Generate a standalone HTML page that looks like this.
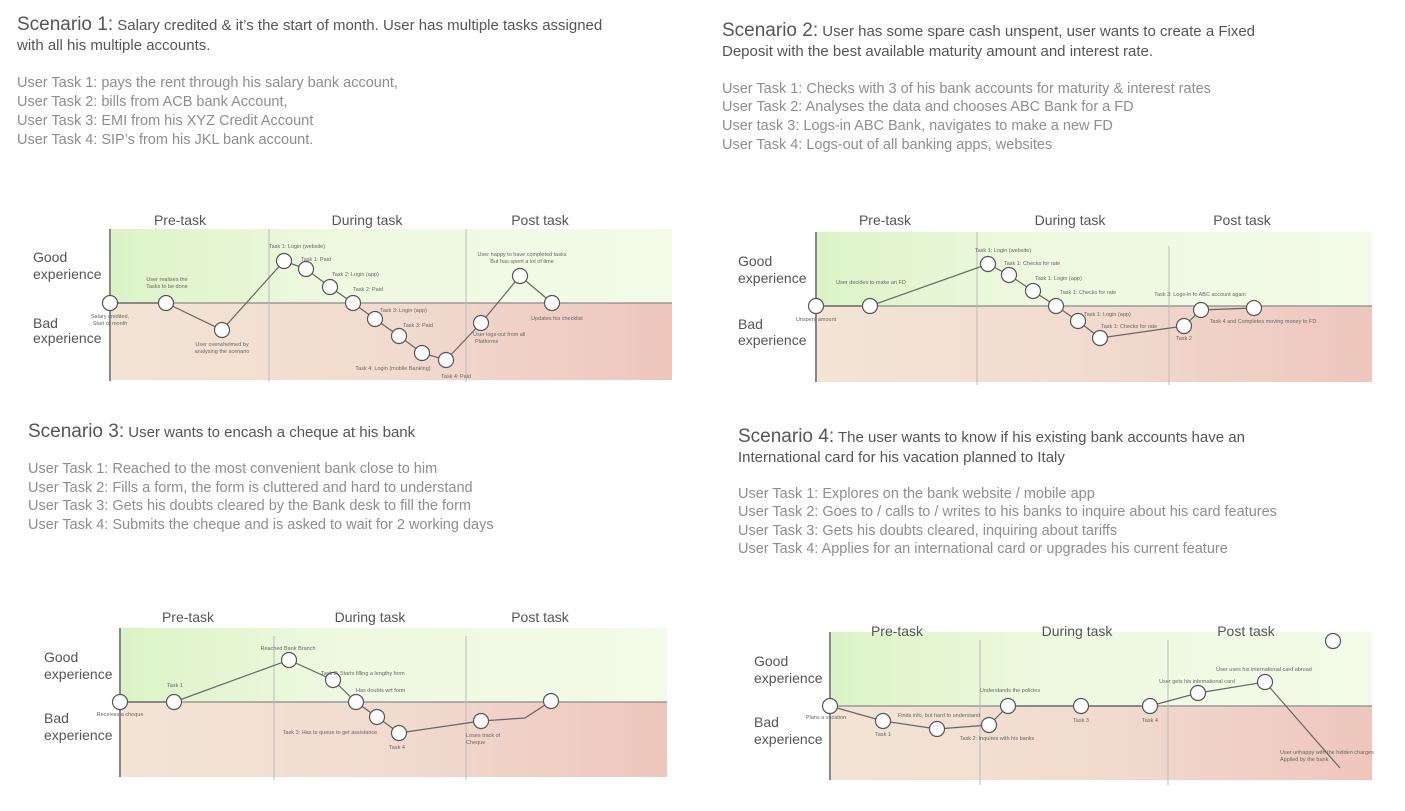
<!DOCTYPE html>
<html><head><meta charset="utf-8"><style>
body{margin:0;background:#fff;}
svg{display:block;font-family:"Liberation Sans",sans-serif;}
.h{fill:#555;font-size:15px}
.hb{fill:#555;font-size:19px}
.t{fill:#8e8e8e;font-size:14.5px}
.ph{fill:#555;font-size:14px;text-anchor:middle}
.lb{fill:#555;font-size:14px}
.a{fill:#666;font-size:5.5px}
.ac{fill:#666;font-size:5.5px;text-anchor:middle}
circle{fill:#fff;stroke:#555;stroke-width:1.2}
polyline{fill:none;stroke:#666;stroke-width:1.2}
.ax{stroke:#888;stroke-width:2}
.dv{stroke:#bbb;stroke-width:1}
</style></head><body>
<svg width="1405" height="811" viewBox="0 0 1405 811">
<defs>
<linearGradient id="g" x1="0" x2="1"><stop offset="0" stop-color="#dcf3c6"/><stop offset="0.4" stop-color="#eef9e0"/><stop offset="1" stop-color="#f3fbe8"/></linearGradient>
<linearGradient id="r" x1="0" x2="1"><stop offset="0" stop-color="#f3e4d4"/><stop offset="0.5" stop-color="#f1dbcf"/><stop offset="1" stop-color="#eec6bc"/></linearGradient>
</defs>

<text x="17" y="30" class="h"><tspan class="hb">Scenario 1:</tspan> Salary credited &amp; it’s the start of month. User has multiple tasks assigned</text>
<text x="17" y="50" class="h">with all his multiple accounts.</text>
<text x="17" y="87" class="t">User Task 1: pays the rent through his salary bank account,</text>
<text x="17" y="106" class="t">User Task 2: bills from ACB bank Account,</text>
<text x="17" y="125" class="t">User Task 3: EMI from his XYZ Credit Account</text>
<text x="17" y="144" class="t">User Task 4: SIP’s from his JKL bank account.</text>

<text x="722" y="36" class="h"><tspan class="hb">Scenario 2:</tspan> User has some spare cash unspent, user wants to create a Fixed</text>
<text x="722" y="56" class="h">Deposit with the best available maturity amount and interest rate.</text>
<text x="722" y="93" class="t">User Task 1: Checks with 3 of his bank accounts for maturity &amp; interest rates</text>
<text x="722" y="111" class="t">User Task 2: Analyses the data and chooses ABC Bank for a FD</text>
<text x="722" y="130" class="t">User task 3: Logs-in ABC Bank, navigates to make a new FD</text>
<text x="722" y="149" class="t">User Task 4: Logs-out of all banking apps, websites</text>

<text x="28" y="437" class="h"><tspan class="hb">Scenario 3:</tspan> User wants to encash a cheque at his bank</text>
<text x="28" y="473" class="t">User Task 1: Reached to the most convenient bank close to him</text>
<text x="28" y="492" class="t">User Task 2: Fills a form, the form is cluttered and hard to understand</text>
<text x="28" y="510" class="t">User Task 3: Gets his doubts cleared by the Bank desk to fill the form</text>
<text x="28" y="529" class="t">User Task 4: Submits the cheque and is asked to wait for 2 working days</text>

<text x="738" y="442" class="h"><tspan class="hb">Scenario 4:</tspan> The user wants to know if his existing bank accounts have an</text>
<text x="738" y="462" class="h">International card for his vacation planned to Italy</text>
<text x="738" y="498" class="t">User Task 1: Explores on the bank website / mobile app</text>
<text x="738" y="516" class="t">User Task 2: Goes to / calls to / writes to his banks to inquire about his card features</text>
<text x="738" y="535" class="t">User Task 3: Gets his doubts cleared, inquiring about tariffs</text>
<text x="738" y="553" class="t">User Task 4: Applies for an international card or upgrades his current feature</text>

<!-- Chart 1 -->
<rect x="111" y="229" width="561" height="74" fill="url(#g)"/>
<rect x="111" y="303" width="561" height="77" fill="url(#r)"/>
<line x1="111" y1="303" x2="672" y2="303" stroke="#999" stroke-width="1.5"/>
<line class="dv" x1="269" y1="229" x2="269" y2="382"/><line class="dv" x1="466" y1="229" x2="466" y2="382"/>
<line class="ax" x1="110" y1="229" x2="110" y2="381"/>
<text x="180" y="225" class="ph">Pre-task</text><text x="367" y="225" class="ph">During task</text><text x="540" y="225" class="ph">Post task</text>
<text x="33" y="262" class="lb">Good</text><text x="33" y="279" class="lb">experience</text>
<text x="33" y="328" class="lb">Bad</text><text x="33" y="343" class="lb">experience</text>
<polyline points="110,303 166,303 222,330 284,261 306,269 330,287 353,303 375,319 399,336 422,353 446,360 481,323 520,276 552,303"/>
<g><circle cx="110" cy="303" r="7.5"/><circle cx="166" cy="303" r="7.5"/><circle cx="222" cy="330" r="7.5"/><circle cx="284" cy="261" r="7.5"/><circle cx="306" cy="269" r="7.5"/><circle cx="330" cy="287" r="7.5"/><circle cx="353" cy="303" r="7.5"/><circle cx="375" cy="319" r="7.5"/><circle cx="399" cy="336" r="7.5"/><circle cx="422" cy="353" r="7.5"/><circle cx="446" cy="360" r="7.5"/><circle cx="481" cy="323" r="7.5"/><circle cx="520" cy="276" r="7.5"/><circle cx="552" cy="303" r="7.5"/></g>
<text x="110" y="318" class="ac">Salary credited,</text><text x="110" y="325" class="ac">Start of month</text>
<text x="167" y="281" class="ac">User realises the</text><text x="167" y="288" class="ac">Tasks to be done</text>
<text x="222" y="346" class="ac">User overwhelmed by</text><text x="222" y="353" class="ac">analysing the scenario</text>
<text x="297" y="248" class="ac">Task 1: Login (website)</text>
<text x="301" y="261" class="a">Task 1: Paid</text><text x="332" y="276" class="a">Task 2: Login (app)</text>
<text x="353" y="291" class="a">Task 2: Paid</text><text x="380" y="312" class="a">Task 3: Login (app)</text>
<text x="403" y="327" class="a">Task 3: Paid</text><text x="393" y="370" class="ac">Task 4: Login (mobile Banking)</text>
<text x="456" y="378" class="ac">Task 4: Paid</text>
<text x="473" y="336" class="a">User logs-out from all</text><text x="475" y="343" class="a">Platforms</text>
<text x="522" y="256" class="ac">User happy to have completed tasks</text><text x="522" y="263" class="ac">But has spent a lot of time</text>
<text x="557" y="320" class="ac">Updates his checklist</text>

<!-- Chart 2 -->
<rect x="817" y="232" width="555" height="74" fill="url(#g)"/>
<rect x="817" y="306" width="555" height="76" fill="url(#r)"/>
<line x1="817" y1="306" x2="1372" y2="306" stroke="#999" stroke-width="1.5"/>
<line class="dv" x1="977" y1="232" x2="977" y2="385"/><line class="dv" x1="1169" y1="246" x2="1169" y2="385"/>
<line class="ax" x1="816" y1="232" x2="816" y2="382"/>
<text x="885" y="225" class="ph">Pre-task</text><text x="1070" y="225" class="ph">During task</text><text x="1242" y="225" class="ph">Post task</text>
<text x="738" y="266" class="lb">Good</text><text x="738" y="283" class="lb">experience</text>
<text x="738" y="329" class="lb">Bad</text><text x="738" y="345" class="lb">experience</text>
<polyline points="816,306 870,306 988,264 1009,275 1033,291 1056,306 1078,321 1100,338 1184,326 1201,310 1254,308"/>
<g><circle cx="816" cy="306" r="7.5"/><circle cx="870" cy="306" r="7.5"/><circle cx="988" cy="264" r="7.5"/><circle cx="1009" cy="275" r="7.5"/><circle cx="1033" cy="291" r="7.5"/><circle cx="1056" cy="306" r="7.5"/><circle cx="1078" cy="321" r="7.5"/><circle cx="1100" cy="338" r="7.5"/><circle cx="1184" cy="326" r="7.5"/><circle cx="1201" cy="310" r="7.5"/><circle cx="1254" cy="308" r="7.5"/></g>
<text x="816" y="321" class="ac">Unspent amount</text><text x="871" y="284" class="ac">User decides to make an FD</text>
<text x="1003" y="252" class="ac">Task 1: Login (website)</text><text x="1004" y="265" class="a">Task 1: Checks for rate</text>
<text x="1035" y="280" class="a">Task 1: Login (app)</text><text x="1060" y="294" class="a">Task 1: Checks for rate</text>
<text x="1084" y="316" class="a">Task 1: Login (app)</text><text x="1101" y="328" class="a">Task 1: Checks for rate</text>
<text x="1184" y="340" class="ac">Task 2</text><text x="1200" y="296" class="ac">Task 3: Logs-in to ABC account again</text>
<text x="1263" y="323" class="ac">Task 4 and Completes moving money to FD</text>

<!-- Chart 3 -->
<rect x="121" y="628" width="546" height="74" fill="url(#g)"/>
<rect x="121" y="702" width="546" height="75" fill="url(#r)"/>
<line x1="121" y1="702" x2="667" y2="702" stroke="#999" stroke-width="1.5"/>
<line class="dv" x1="274" y1="636" x2="274" y2="780"/><line class="dv" x1="466" y1="636" x2="466" y2="780"/>
<line class="ax" x1="120" y1="628" x2="120" y2="777"/>
<text x="188" y="622" class="ph">Pre-task</text><text x="370" y="622" class="ph">During task</text><text x="540" y="622" class="ph">Post task</text>
<text x="44" y="662" class="lb">Good</text><text x="44" y="679" class="lb">experience</text>
<text x="44" y="723" class="lb">Bad</text><text x="44" y="740" class="lb">experience</text>
<polyline points="120,702 174,702 289,660 333,680 356,702 377,717 399,733 481,721 525,718 551,701"/>
<g><circle cx="120" cy="702" r="7.5"/><circle cx="174" cy="702" r="7.5"/><circle cx="289" cy="660" r="7.5"/><circle cx="333" cy="680" r="7.5"/><circle cx="356" cy="702" r="7.5"/><circle cx="377" cy="717" r="7.5"/><circle cx="399" cy="733" r="7.5"/><circle cx="481" cy="721" r="7.5"/><circle cx="551" cy="701" r="7.5"/></g>
<text x="120" y="716" class="ac">Receives a cheque</text><text x="175" y="687" class="ac">Task 1</text>
<text x="288" y="650" class="ac">Reached Bank Branch</text><text x="321" y="675" class="a">Task 2: Starts filling a lengthy form</text>
<text x="356" y="692" class="a">Has doubts wrt form</text><text x="330" y="734" class="ac">Task 3: Has to queue to get assistance</text>
<text x="397" y="749" class="ac">Task 4</text><text x="466" y="737" class="a">Loses track of</text><text x="466" y="744" class="a">Cheque</text>

<!-- Chart 4 -->
<rect x="831" y="632" width="541" height="74" fill="url(#g)"/>
<rect x="831" y="706" width="541" height="74" fill="url(#r)"/>
<line x1="831" y1="706" x2="1372" y2="706" stroke="#999" stroke-width="1.5"/>
<line class="dv" x1="980" y1="640" x2="980" y2="785"/><line class="dv" x1="1168" y1="640" x2="1168" y2="785"/>
<line class="ax" x1="830" y1="632" x2="830" y2="780"/>
<text x="897" y="636" class="ph">Pre-task</text><text x="1077" y="636" class="ph">During task</text><text x="1246" y="636" class="ph">Post task</text>
<text x="754" y="666" class="lb">Good</text><text x="754" y="683" class="lb">experience</text>
<text x="754" y="727" class="lb">Bad</text><text x="754" y="744" class="lb">experience</text>
<polyline points="830,706 883,721 937,729 989,725 1008,706 1081,706 1150,706 1198,693 1265,682 1340,768"/>
<g><circle cx="830" cy="706" r="7.5"/><circle cx="883" cy="721" r="7.5"/><circle cx="937" cy="729" r="7.5"/><circle cx="989" cy="725" r="7.5"/><circle cx="1008" cy="706" r="7.5"/><circle cx="1081" cy="706" r="7.5"/><circle cx="1150" cy="706" r="7.5"/><circle cx="1198" cy="693" r="7.5"/><circle cx="1265" cy="682" r="7.5"/><circle cx="1333" cy="641" r="7.5"/></g>
<text x="826" y="719" class="ac">Plans a vacation</text><text x="883" y="736" class="ac">Task 1</text>
<text x="939" y="717" class="ac">Finds info, but hard to understand</text><text x="997" y="740" class="ac">Task 2: Inquires with his banks</text>
<text x="1010" y="692" class="ac">Understands the policies</text><text x="1081" y="722" class="ac">Task 3</text>
<text x="1150" y="722" class="ac">Task 4</text><text x="1197" y="683" class="ac">User gets his international card</text>
<text x="1264" y="671" class="ac">User uses his international card abroad</text>
<text x="1280" y="754" class="a">User unhappy with the hidden charges</text><text x="1280" y="761" class="a">Applied by the bank</text>
</svg>
</body></html>
